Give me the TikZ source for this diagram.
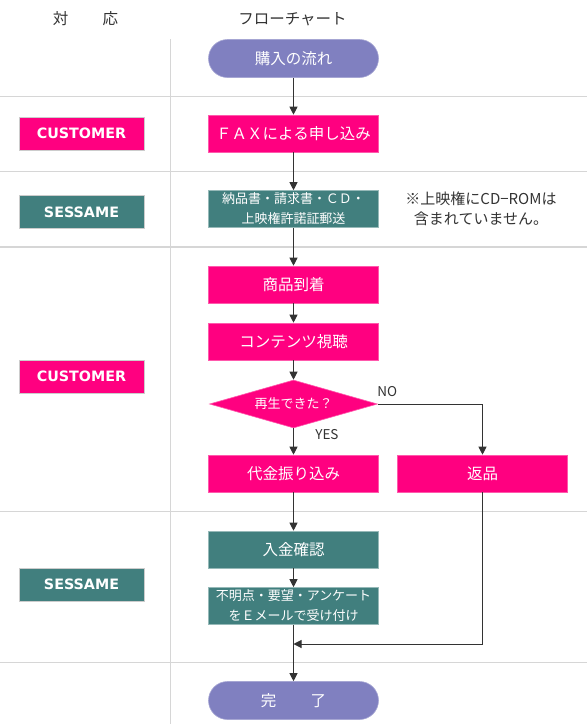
\documentclass[tikz,border=0pt]{standalone}
\usepackage{fontspec}
\setmainfont{Noto Sans CJK JP}
\newfontfamily\rolefont{DejaVu Sans}
\usetikzlibrary{arrows.meta,shapes.geometric}
\definecolor{flow_pink}{RGB}{255, 0, 128}
\definecolor{flow_teal}{RGB}{65, 127, 126}
\definecolor{flow_purple}{RGB}{128, 128, 192}
\definecolor{rule_gray}{RGB}{214, 214, 214}
\definecolor{ink}{RGB}{51, 51, 51}
\tikzstyle{pk}=[rectangle,fill=flow_pink,draw=flow_pink!65!white,line width=0.6pt,
  text=white,font=\fontsize{15.5pt}{18pt}\selectfont,inner sep=0pt,minimum width=170pt,minimum height=37pt]
\tikzstyle{tl}=[rectangle,fill=flow_teal,draw=flow_teal!55!white,line width=0.6pt,
  text=white,font=\fontsize{15.5pt}{18pt}\selectfont,inner sep=0pt,minimum width=170pt,minimum height=37pt]
\tikzstyle{pill}=[rectangle,rounded corners=19pt,fill=flow_purple,draw=flow_purple!70!white,line width=0.6pt,
  text=white,font=\fontsize{15.5pt}{18pt}\selectfont,inner sep=0pt,minimum width=170pt,minimum height=38pt]
\tikzstyle{dec}=[diamond,aspect=3.5,fill=flow_pink,draw=flow_pink!65!white,line width=0.6pt,
  text=white,font=\fontsize{13pt}{16pt}\selectfont,inner sep=0pt,minimum width=168pt,minimum height=48pt]
\tikzstyle{role}=[rectangle,draw=white!80!black,line width=0.5pt,text=white,
  font=\rolefont\bfseries\fontsize{14.3pt}{16pt}\selectfont,inner sep=0pt,minimum width=125pt,minimum height=33pt]
\tikzstyle{head}=[text=ink,font=\fontsize{15.5pt}{18pt}\selectfont]
\tikzstyle{small}=[align=center,font=\fontsize{13pt}{20pt}\selectfont]
\tikzstyle{arr}=[draw=ink,line width=1pt,-{Triangle[length=8pt,width=8pt]}]
\tikzstyle{sep}=[draw=rule_gray,line width=1.5pt]
\tikzstyle{none}=[]

\begin{document}
\begin{tikzpicture}[x=1pt,y=-1pt]
		\useasboundingbox (0, 0) rectangle (587, 724);
		% table rules
		\draw [style=sep] (0, 96.5) to (587, 96.5);
		\draw [style=sep] (0, 171.5) to (587, 171.5);
		\draw [style=sep] (0, 247) to (587, 247);
		\draw [style=sep] (0, 511.5) to (587, 511.5);
		\draw [style=sep] (0, 662.5) to (587, 662.5);
		\draw [style=sep] (170.5, 39) to (170.5, 724);
		% headings
		\node [style=head] (20) at (85.5, 19) {対\hspace{2.2em}応};
		\node [style=head] (21) at (292.5, 19) {フローチャート};
		% who does it
		\node [style=role, fill=flow_pink] (11) at (81.5, 133.5) {CUSTOMER};
		\node [style=role, fill=flow_teal] (12) at (81.5, 212) {SESSAME};
		\node [style=role, fill=flow_pink] (13) at (81.5, 376.5) {CUSTOMER};
		\node [style=role, fill=flow_teal] (14) at (81.5, 584.5) {SESSAME};
		% flow
		\node [style=pill] (0) at (293.5, 58.5) {購入の流れ};
		\node [style=pk] (1) at (293.5, 133.5) {ＦＡＸによる申し込み};
		\node [style=tl, small] (2) at (293.5, 209) {納品書・請求書・ＣＤ・\\上映権許諾証郵送};
		\node [style=pk] (3) at (293.5, 284.5) {商品到着};
		\node [style=pk] (4) at (293.5, 341.5) {コンテンツ視聴};
		\node [style=dec] (5) at (293.5, 404) {再生できた？};
		\node [style=pk] (6) at (293.5, 473.5) {代金振り込み};
		\node [style=pk] (7) at (482.5, 473.5) {返品};
		\node [style=tl] (8) at (293.5, 549.5) {入金確認};
		\node [style=tl, small] (9) at (293.5, 606) {不明点・要望・アンケート\\をＥメールで受け付け};
		\node [style=pill] (10) at (293.5, 700.5) {完\hspace{2.2em}了};
		\coordinate (15) at (293.5, 644);
		\node [style=none, text=ink, small, font=\fontsize{15pt}{20pt}\selectfont] (16) at (481, 209) {※上映権にCD−ROMは\\含まれていません。};
		\draw [style=arr] (0) to (1);
		\draw [style=arr] (1) to (2);
		\draw [style=arr] (2) to (3);
		\draw [style=arr] (3) to (4);
		\draw [style=arr] (4) to (5);
		\draw [style=arr] (5) to node [pos=0.25, anchor=west, xshift=18pt, text=ink, font=\fontsize{13.5pt}{16pt}\selectfont] {YES} (6);
		\draw [style=arr] (5.east) -| node [at start, anchor=south west, yshift=6pt, xshift=-2pt, inner sep=1pt, text=ink, font=\fontsize{13.5pt}{16pt}\selectfont] {NO} (7);
		\draw [style=arr] (6) to (8);
		\draw [style=arr] (8) to (9);
		\draw [style=arr] (7) |- (15);
		\draw [style=arr] (9) to (10);
\end{tikzpicture}
\end{document}
